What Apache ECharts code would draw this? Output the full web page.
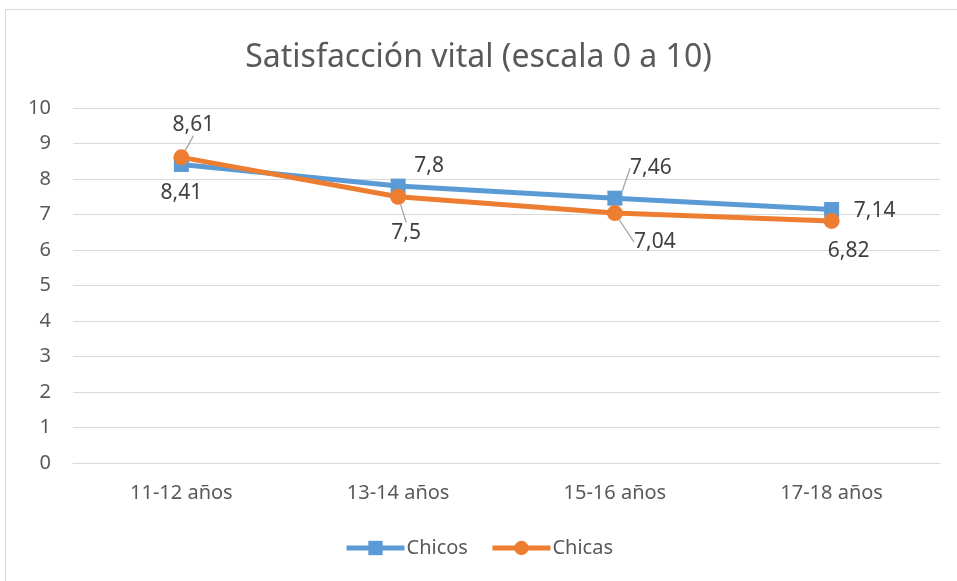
<!DOCTYPE html>
<html><head><meta charset="utf-8">
<script src="https://cdn.jsdelivr.net/npm/echarts@6/dist/echarts.min.js"></script>
<style>html,body{margin:0;padding:0;background:#fff}#c{width:957px;height:581px}</style>
</head><body><div id="c"></div>
<script>
const categories = ['11-12 años', '13-14 años', '15-16 años', '17-18 años'];
const chicos = [8.41, 7.8, 7.46, 7.14];
const chicas = [8.61, 7.5, 7.04, 6.82];
const yTicks = [0, 10, 1];

const FONT = '"Noto Sans", sans-serif';
const fmt = p => String(p.value).replace('.', ',');
const offsChicos = [[0, 29], [31, -20], [36, -30], [43, 1]];
const offsChicas = [[12, -32], [8, 36], [40, 29], [17, 30]];
const leaderChicos = [false, false, true, false];
const leaderChicas = [true, true, true, false];
const toData = (vals, leaders) => vals.map((v, i) => ({ value: v, labelLine: { show: leaders[i] } }));

const chart = echarts.init(document.getElementById('c'));
chart.setOption({
  animation: false,
  backgroundColor: '#fff',
  textStyle: { fontFamily: FONT },
  graphic: [{ type: 'rect', shape: { x: 5.5, y: 9.5, width: 960, height: 580 }, style: { fill: 'none', stroke: '#d9d9d9', lineWidth: 1 } }],
  title: { text: 'Satisfacción vital (escala 0 a 10)', left: 'center', top: 37,
    textStyle: { fontFamily: FONT, fontSize: 32, fontWeight: 'normal', color: '#595959' } },
  grid: { left: 73, right: 17, top: 108, bottom: 118, containLabel: false },
  legend: { bottom: 18, left: 'center', itemWidth: 58, itemHeight: 18, itemGap: 22,
    lineStyle: { width: 5 },
    textStyle: { fontFamily: FONT, fontSize: 20, color: '#595959', padding: [0, 0, 0, -3] },
    data: ['Chicos', 'Chicas'] },
  xAxis: { type: 'category', data: categories, boundaryGap: true,
    axisLine: { lineStyle: { color: '#d9d9d9', width: 1 } }, axisTick: { show: false },
    axisLabel: { fontFamily: FONT, fontSize: 20, color: '#595959', margin: 20 } },
  yAxis: { type: 'value', min: yTicks[0], max: yTicks[1], interval: yTicks[2],
    axisLine: { show: false }, axisTick: { show: false },
    splitLine: { lineStyle: { color: '#d9d9d9', width: 1 } },
    axisLabel: { fontFamily: FONT, fontSize: 20, color: '#595959', margin: 22 } },
  series: [
    { name: 'Chicos', type: 'line', data: toData(chicos, leaderChicos), symbol: 'rect', symbolSize: 15,
      itemStyle: { color: '#5b9bd5' }, lineStyle: { color: '#5b9bd5', width: 5 },
      label: { show: true, position: 'inside', formatter: fmt, fontFamily: FONT, fontSize: 21, color: '#404040' },
      labelLine: { show: true, lineStyle: { color: '#a6a6a6', width: 1.3 } },
      labelLayout: p => ({ dx: offsChicos[p.dataIndex][0], dy: offsChicos[p.dataIndex][1] }) },
    { name: 'Chicas', type: 'line', data: toData(chicas, leaderChicas), symbol: 'circle', symbolSize: 16,
      itemStyle: { color: '#ed7d31' }, lineStyle: { color: '#ed7d31', width: 5 },
      label: { show: true, position: 'inside', formatter: fmt, fontFamily: FONT, fontSize: 21, color: '#404040' },
      labelLine: { show: true, lineStyle: { color: '#a6a6a6', width: 1.3 } },
      labelLayout: p => ({ dx: offsChicas[p.dataIndex][0], dy: offsChicas[p.dataIndex][1] }) }
  ]
});
</script></body></html>
